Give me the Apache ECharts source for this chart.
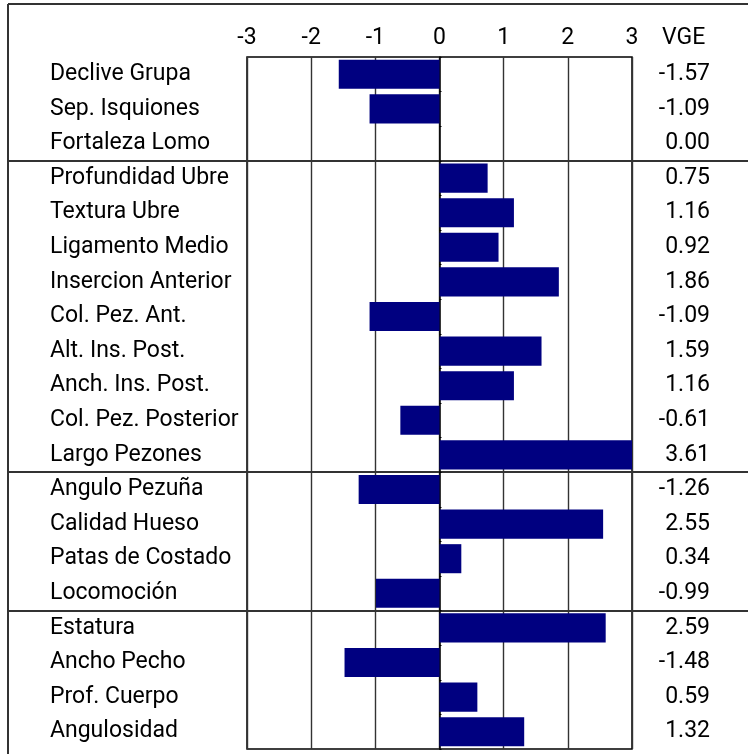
<!DOCTYPE html>
<html>
<head>
<meta charset="utf-8">
<script src="https://cdn.jsdelivr.net/npm/echarts@6/dist/echarts.min.js"></script>
<style>
html, body { margin: 0; padding: 0; background: #fff; }
#chart { width: 748px; height: 754px; }
</style>
</head>
<body>
<div id="chart"></div>
<script>
var categories = ['Declive Grupa', 'Sep. Isquiones', 'Fortaleza Lomo',
    'Profundidad Ubre', 'Textura Ubre', 'Ligamento Medio', 'Insercion Anterior',
    'Col. Pez. Ant.', 'Alt. Ins. Post.', 'Anch. Ins. Post.', 'Col. Pez. Posterior',
    'Largo Pezones', 'Angulo Pezuña', 'Calidad Hueso', 'Patas de Costado',
    'Locomoción', 'Estatura', 'Ancho Pecho', 'Prof. Cuerpo', 'Angulosidad'];
var values = [-1.57, -1.09, 0.00,
    0.75, 1.16, 0.92, 1.86, -1.09, 1.59, 1.16, -0.61, 3.61,
    -1.26, 2.55, 0.34, -0.99,
    2.59, -1.48, 0.59, 1.32];
// rows after which a group separator is drawn
var groupBreaks = [3, 12, 16];
var xMin = -3, xMax = 3, xStep = 1;
var valueTitle = 'VGE';

var font = "Roboto, 'Liberation Sans', sans-serif";
var fontSize = 23;

var valueLabels = values.map(function (v) { return v.toFixed(2); });

var myChart = echarts.init(document.getElementById('chart'));
var option = {
    animation: false,
    backgroundColor: '#fff',
    grid: {
        left: 247, right: 116, top: 57, bottom: 5,
        show: true,
        borderColor: '#000',
        borderWidth: 1.5
    },
    xAxis: {
        type: 'value',
        position: 'top',
        min: xMin,
        max: xMax,
        interval: xStep,
        axisLine: {show: false},
        axisTick: {show: false},
        splitLine: {lineStyle: {color: '#333', width: 1.4}},
        axisLabel: {
            margin: 7,
            color: '#000',
            fontFamily: font,
            fontSize: fontSize
        }
    },
    yAxis: [
        {
            type: 'category',
            data: categories,
            inverse: true,
            axisLine: {show: true, lineStyle: {color: '#000', width: 1.5}},
            axisTick: {show: true, inside: true, length: 2, lineStyle: {color: '#000'}},
            axisLabel: {
                align: 'left',
                margin: 197,
                color: '#000',
                fontFamily: font,
                fontSize: fontSize
            }
        },
        {
            type: 'category',
            position: 'right',
            data: valueLabels,
            inverse: true,
            axisLine: {show: false},
            axisTick: {show: false},
            axisLabel: {
                align: 'right',
                margin: 78,
                color: '#000',
                fontFamily: font,
                fontSize: fontSize
            }
        }
    ],
    series: [
        {
            type: 'bar',
            data: values,
            yAxisIndex: 0,
            barCategoryGap: '16%',
            clip: true,
            itemStyle: {color: '#000080'}
        }
    ]
};
myChart.setOption(option);

// frame and group separators drawn across the whole width
var lineStyle = {stroke: '#333', lineWidth: 2};
var elements = [
    {type: 'line', shape: {x1: 8, y1: 4, x2: 748, y2: 4}, style: lineStyle},
    {type: 'line', shape: {x1: 8, y1: 4, x2: 8, y2: 754}, style: lineStyle},
    {
        type: 'text', left: 662, top: 27,
        style: {text: valueTitle, fill: '#000', font: fontSize + 'px ' + font}
    }
];
groupBreaks.forEach(function (i) {
    var a = myChart.convertToPixel({yAxisIndex: 0}, categories[i - 1]);
    var b = myChart.convertToPixel({yAxisIndex: 0}, categories[i]);
    var y = Math.round((a + b) / 2);
    elements.push({type: 'line', shape: {x1: 8, y1: y, x2: 748, y2: y}, style: lineStyle});
});
myChart.setOption({graphic: elements});
</script>
</body>
</html>
